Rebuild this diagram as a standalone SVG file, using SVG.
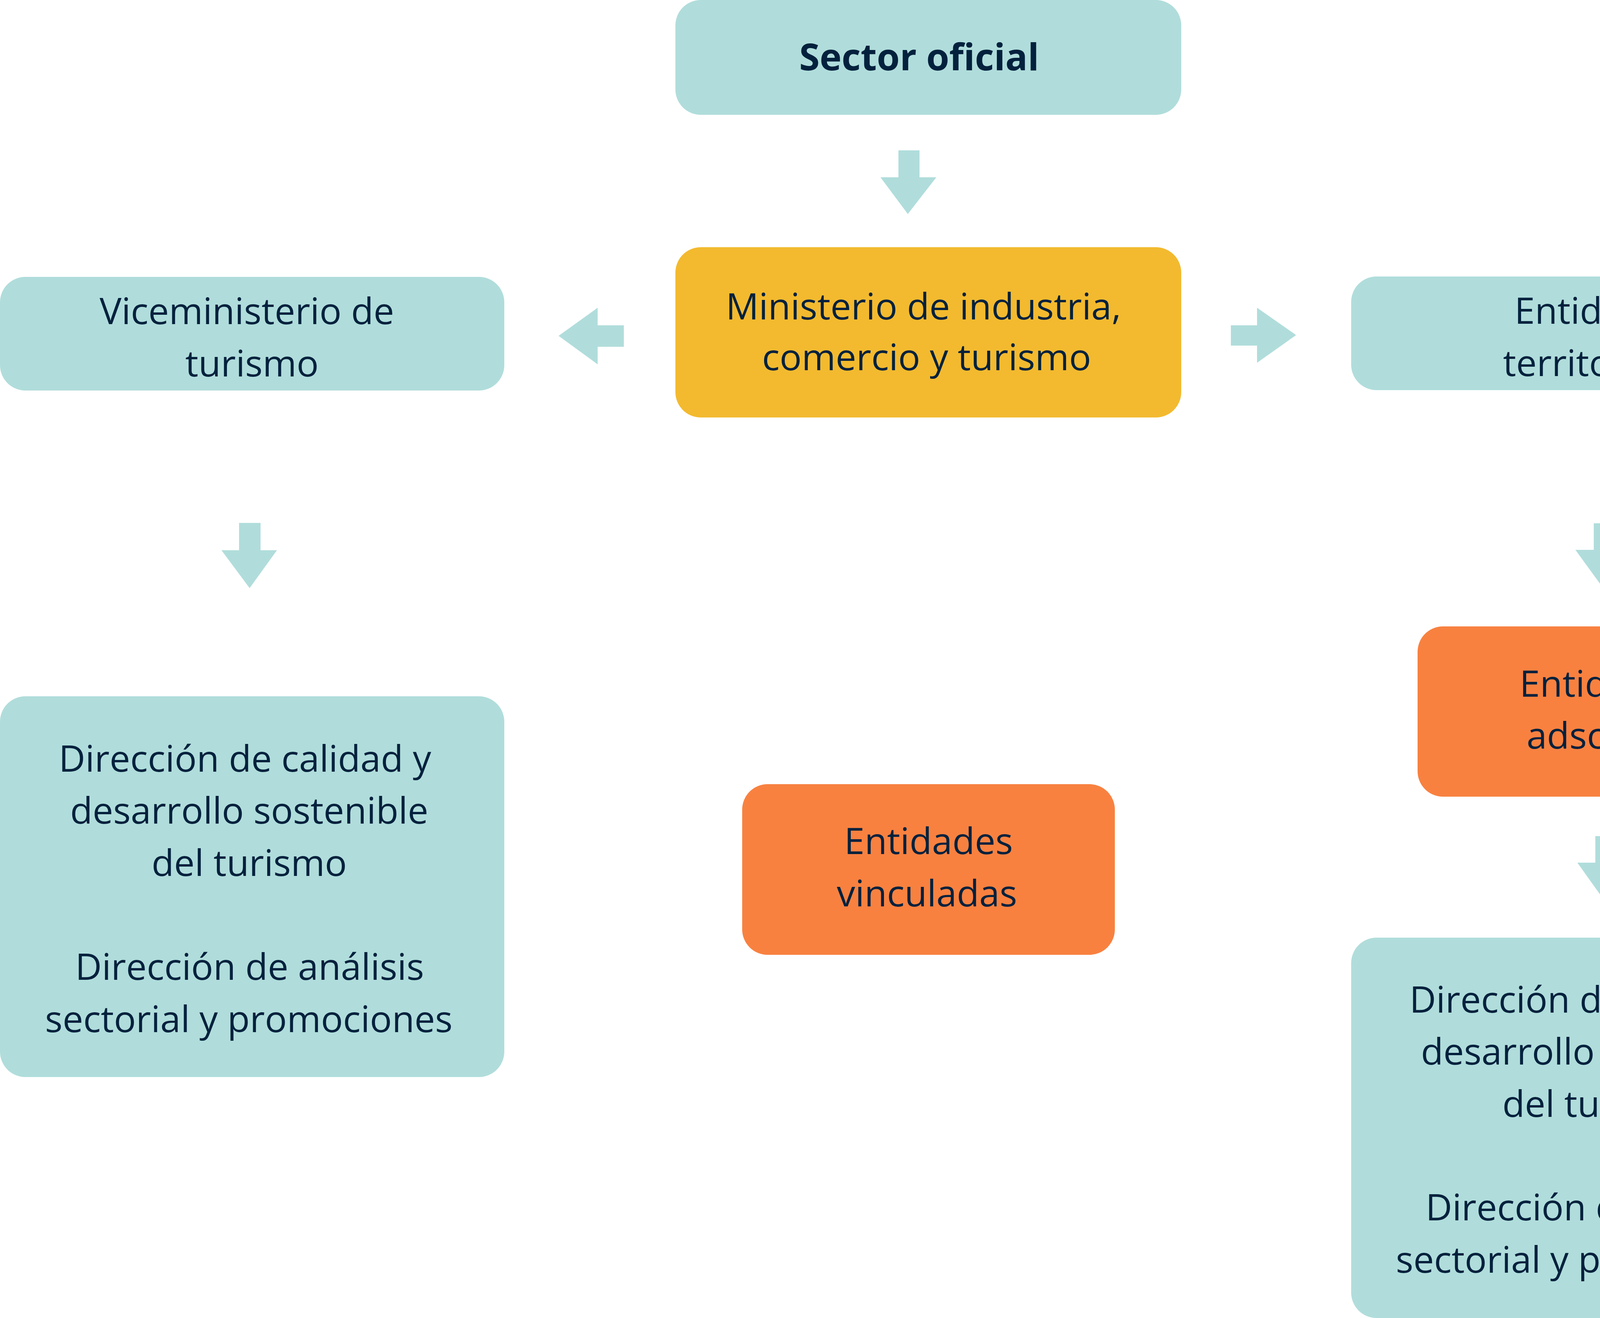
<svg xmlns="http://www.w3.org/2000/svg" width="4750" height="3375" viewBox="0 0 4750 3375">
<defs>
<style>
.teal{fill:#B0DDDB}
.yel{fill:#F3BA2F}
.org{fill:#F88140}
.arr{fill:#B0DDDB}
text{font-family:"Open Sans","Noto Sans","DejaVu Sans",sans-serif;font-size:94px;fill:#03213D;text-anchor:middle}
.b{font-weight:bold;font-size:95px}
</style>
</defs>
<rect width="4750" height="3375" fill="#FFFFFF"/>
<g id="connectors">
<polygon class="arr" points="2300,385 2354,385 2354,454 2397,454 2324,548 2254,454 2300,454"/>
<polygon class="arr" points="1597,833 1597,888 1530,888 1530,933 1430,860 1530,788 1530,833"/>
<polygon class="arr" points="3151,833 3218,833 3218,788 3318,858 3218,929 3218,885 3151,885"/>
<polygon class="arr" points="612,1339 667,1339 667,1409 709,1409 639,1506 567,1409 612,1409"/>
<polygon class="arr" points="4080,1340 4133,1340 4133,1408 4175,1408 4105,1507 4033,1408 4080,1408"/>
<polygon class="arr" points="4084,2141 4137,2141 4137,2209 4180,2209 4108,2307 4038,2209 4084,2209"/>
</g>
<g id="sector">
<rect class="teal" x="1729" y="0" width="1295" height="294" rx="65"/>
<text class="b" x="2353" y="180">Sector oficial</text>
</g>
<g id="ministerio">
<rect class="yel" x="1729" y="633" width="1295" height="436" rx="65"/>
<text x="2364" y="818">Ministerio de industria,</text>
<text x="2372" y="948">comercio y turismo</text>
</g>
<g id="viceministerio">
<rect class="teal" x="0" y="709" width="1291" height="291" rx="65"/>
<text x="632" y="830">Viceministerio de</text>
<text x="645" y="964">turismo</text>
</g>
<g id="territoriales">
<rect class="teal" x="3459" y="708" width="1291" height="291" rx="65"/>
<text x="4093" y="829">Entidades</text>
<text x="4104" y="963">territoriales</text>
</g>
<g id="adscritas">
<rect class="org" x="3629" y="1604" width="954" height="436" rx="65"/>
<text x="4106" y="1784">Entidades</text>
<text x="4104" y="1917">adscritas</text>
</g>
<g id="direcciones-izq">
<rect class="teal" x="0" y="1783" width="1291" height="975" rx="65"/>
<text x="627" y="1976">Dirección de calidad y</text>
<text x="638" y="2109">desarrollo sostenible</text>
<text x="638" y="2243">del turismo</text>
<text x="639" y="2509">Dirección de análisis</text>
<text x="637" y="2643">sectorial y promociones</text>
</g>
<g id="vinculadas">
<rect class="org" x="1900" y="2008" width="954" height="437" rx="65"/>
<text x="2377" y="2187">Entidades</text>
<text x="2373" y="2321">vinculadas</text>
</g>
<g id="direcciones-der">
<rect class="teal" x="3459" y="2401" width="1291" height="974" rx="65"/>
<text x="4085" y="2593">Dirección de calidad y</text>
<text x="4096" y="2726">desarrollo sostenible</text>
<text x="4096" y="2860">del turismo</text>
<text x="4096" y="3125">Dirección de análisis</text>
<text x="4095" y="3259">sectorial y promociones</text>
</g>
</svg>
